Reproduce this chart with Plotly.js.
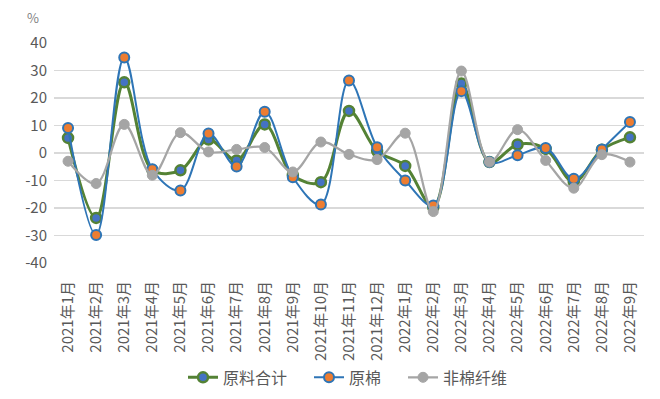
<!DOCTYPE html>
<html>
<head>
<meta charset="utf-8">
<script src="https://cdn.plot.ly/plotly-3.0.1.min.js"></script>
<style>html,body{margin:0;padding:0;background:#fff;}#chart{width:660px;height:399px;}</style>
</head>
<body>
<div id="chart"></div>
<script>
const categories = ["2021年1月","2021年2月","2021年3月","2021年4月","2021年5月","2021年6月","2021年7月","2021年8月","2021年9月","2021年10月","2021年11月","2021年12月","2022年1月","2022年2月","2022年3月","2022年4月","2022年5月","2022年6月","2022年7月","2022年8月","2022年9月"];
const totalRaw = [5.5,-23.6,25.7,-6.2,-6.3,4.9,-2.7,10.4,-8.1,-10.6,15.3,0.7,-4.7,-19.7,25.3,-3.3,3.1,1.5,-10.5,1.2,5.7];
const cotton = [9.1,-29.8,34.7,-5.9,-13.6,7.1,-4.9,15.0,-8.8,-18.7,26.4,2.1,-10.0,-19.1,22.5,-3.3,-0.8,1.8,-9.4,1.3,11.3];
const nonCotton = [-3.0,-11.1,10.4,-8.1,7.4,0.4,1.3,2.0,-6.9,4.0,-0.5,-2.4,7.2,-21.3,29.8,-3.3,8.5,-2.7,-12.8,-0.6,-3.3];
const seriesNames = ["原料合计","原棉","非棉纤维"];
const yTicks = [-40,-30,-20,-10,0,10,20,30,40];

const font = "Noto Sans CJK SC, sans-serif";
const traces = [
  {x: categories, y: totalRaw, name: seriesNames[0], type: "scatter", mode: "lines+markers", legend: "legend",
   line: {color: "#548235", width: 3, shape: "spline", smoothing: 1},
   marker: {size: 10, color: "#4472C4", line: {color: "#548235", width: 2.5}}},
  {x: categories, y: cotton, name: seriesNames[1], type: "scatter", mode: "lines+markers", legend: "legend2",
   line: {color: "#2E75B6", width: 2, shape: "spline", smoothing: 1},
   marker: {size: 10, color: "#ED7D31", line: {color: "#2E75B6", width: 2}}},
  {x: categories, y: nonCotton, name: seriesNames[2], type: "scatter", mode: "lines+markers", legend: "legend3",
   line: {color: "#A5A5A5", width: 2.2, shape: "spline", smoothing: 1},
   marker: {size: 10, color: "#A5A5A5", line: {color: "#A5A5A5", width: 1}}}
];
function leg(px) {
  return {orientation: "h", x: (px - 54) / 590, xanchor: "left", y: -0.52, yanchor: "middle",
          bgcolor: "rgba(0,0,0,0)", font: {family: font, size: 16, color: "#595959"}};
}
const layout = {
  width: 660, height: 399,
  margin: {l: 54, r: 16, t: 43, b: 136, autoexpand: false},
  paper_bgcolor: "#fff", plot_bgcolor: "#fff",
  font: {family: font, size: 15, color: "#595959"},
  showlegend: true,
  legend: leg(183), legend2: leg(309), legend3: leg(403),
  xaxis: {type: "category", range: [-0.5, categories.length - 0.5], tickangle: -90, showgrid: false, zeroline: false, showline: false, automargin: false,
          ticks: "", ticklabelstandoff: 14, tickfont: {family: font, size: 15, color: "#595959"}, fixedrange: true},
  yaxis: {range: [-40, 40], tickvals: yTicks, ticktext: yTicks.map(String), showgrid: true, gridcolor: "#D9D9D9",
          gridwidth: 1.5, zeroline: false, showline: false, ticks: "", ticklabelstandoff: 6, automargin: false,
          tickfont: {family: font, size: 15, color: "#595959"}, fixedrange: true},
  annotations: [{text: "%", xref: "paper", yref: "paper", x: (33-54)/590, y: (263-17)/220,
                 xanchor: "center", yanchor: "middle", showarrow: false,
                 font: {family: font, size: 13, color: "#7F7F7F"}}],
  hovermode: false
};
Plotly.newPlot("chart", traces, layout, {displayModeBar: false, staticPlot: true});
</script>
</body>
</html>
